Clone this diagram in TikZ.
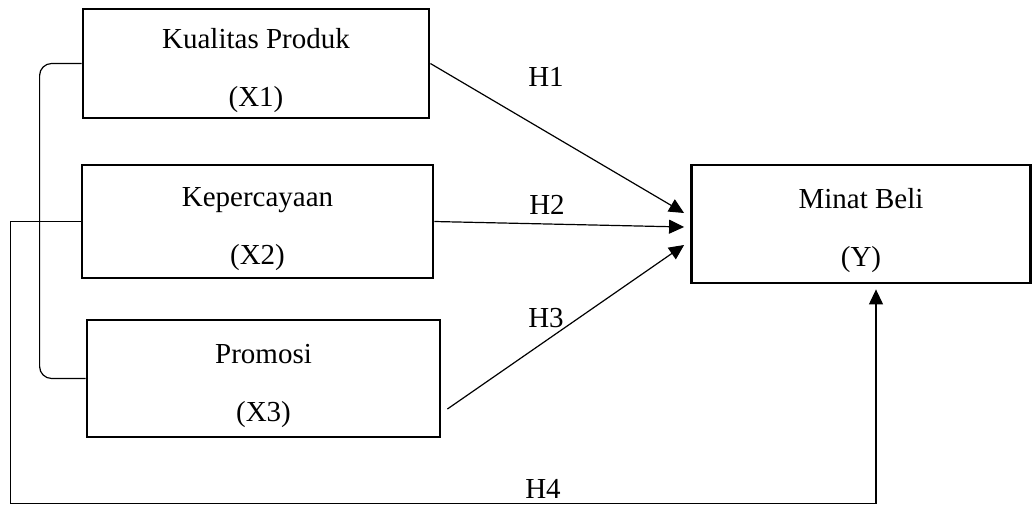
\documentclass[tikz,border=0pt]{standalone}
\usepackage{fontspec}
\setmainfont{Liberation Serif}
\usepackage{tikz}
\usetikzlibrary{arrows.meta, calc}

\begin{document}
\begin{tikzpicture}[x=0.5pt,y=-0.5pt,
  var/.style={draw,line width=1.4pt,align=center,inner sep=0pt,font=\fontsize{14.5}{17}\selectfont},
  link/.style={line width=0.6pt},
  hyp/.style={font=\fontsize{14.5}{17}\selectfont}]
  \useasboundingbox (0,0) rectangle (1035,505);
  \node[var,minimum width=173pt,minimum height=54.5pt](x1) at (256,63.5){\rule{0pt}{17pt}Kualitas Produk\\[12pt](X1)};
  \node[var,minimum width=175.5pt,minimum height=56.5pt](x2) at (257.5,221.5){\rule{0pt}{17pt}Kepercayaan\\[12pt](X2)};
  \node[var,minimum width=176.5pt,minimum height=58.5pt](x3) at (263.5,378.5){\rule{0pt}{17pt}Promosi\\[12pt](X3)};
  \node[var,minimum width=169.5pt,minimum height=59pt](y) at (861,224){\rule{0pt}{17pt}Minat Beli\\[12pt](Y)};
  % arrow ends at Y
  \coordinate(in1) at ($(y.west)+(-6,-11)$);
  \coordinate(in2) at ($(y.west)+(-6,3)$);
  \coordinate(in3) at ($(y.west)+(-6,21)$);
  \coordinate(in4) at ($(y.south)+(15,5)$);
  \draw[link,-{Triangle[length=7.5pt,width=7pt]}](x1.east)--(in1);
  \draw[link,-{Triangle[length=7.5pt,width=7pt]}](x2.east)--(in2);
  \draw[link,-{Triangle[length=7.5pt,width=7pt]}]($(x3.east)+(6,30.5)$)--(in3);
  \draw[link,-{Triangle[length=7.5pt,width=7pt]}](x2.west)--++(-70,0)|-($(in4)+(0,214)$)--(in4);
  % bracket X1-X3
  \draw[link,rounded corners=6pt](x1.west)--++(-42,0)|-(x3.west);
  \node[hyp](h1) at (546,77){H1};
  \node[hyp](h2) at (547,205){H2};
  \node[hyp](h3) at (546,318){H3};
  \node[hyp](h4) at (543,489){H4};
\end{tikzpicture}
\end{document}
